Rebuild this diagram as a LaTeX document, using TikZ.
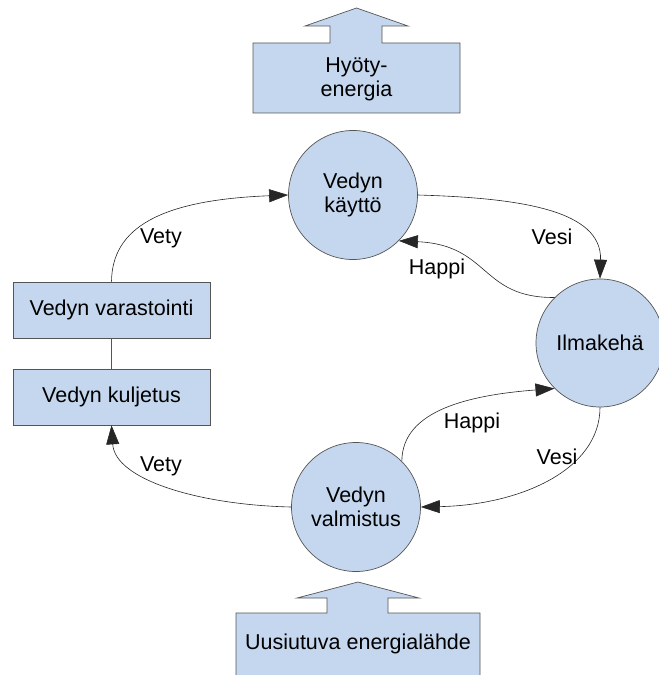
\documentclass[tikz,border=0pt]{standalone}
\usepackage{fontspec}
\setmainfont{Liberation Sans}
\usetikzlibrary{arrows.meta}
\definecolor{boxfill}{RGB}{197,215,238}
\definecolor{boxline}{RGB}{85,85,85}
\begin{document}
\begin{tikzpicture}[x=1bp,y=-1bp,
  every node/.style={font=\fontsize{21.5bp}{24bp}\selectfont, text=black},
  ball/.style={circle, draw=boxline, fill=boxfill, line width=0.7bp, minimum size=129bp, inner sep=0pt, align=center},
  stepbox/.style={rectangle, draw=boxline, fill=boxfill, line width=0.7bp, minimum width=197bp, minimum height=56bp, inner sep=0pt},
  bigarrow/.style={draw=boxline, fill=boxfill, line width=0.7bp, line join=miter},
  flow/.style={draw=black!85, line width=0.6bp, -{Triangle[length=19bp,width=13bp]}},
  lbl/.style={inner sep=0pt}]
\useasboundingbox (0,0) rectangle (659,675);

% output arrow box at the top
\path[bigarrow] (253,113) -- (253,43) -- (330,43) -- (330,26) -- (305,26) -- (356.5,8)
  -- (408,26) -- (382,26) -- (382,43) -- (460,43) -- (460,113) -- cycle;
\node[align=center, inner sep=0pt] (hyoty) at (356.5,79) {Hyöty-\\energia};

% input arrow box at the bottom
\path[bigarrow] (236,700) -- (236,613) -- (327,613) -- (327,598) -- (297,598) -- (358,582)
  -- (419,598) -- (388,598) -- (388,613) -- (480,613) -- (480,700) -- cycle;
\node[inner sep=0pt] (uusi) at (358,644) {Uusiutuva energialähde};

% process nodes
\node[ball] (kaytto) at (353,195) {Vedyn\\käyttö};
\node[ball] (valm) at (356,507) {Vedyn\\valmistus};
\node[ball, minimum size=128bp] (ilma) at (600,343) {Ilmakehä};
\node[stepbox] (varast) at (111.5,310) {Vedyn varastointi};
\node[stepbox] (kulj) at (111.5,397) {Vedyn kuljetus};

% link between storage and transport
\draw[boxline, line width=0.7bp] (varast.south) -- (kulj.north);

% flows
\draw[flow] (varast.north) .. controls (112,228) and (160,200) .. (kaytto.west);
\draw[flow] (kaytto.east) .. controls (520,198) and (602,210) .. (ilma.north);
\draw[flow] (ilma.135) .. controls (480,298) and (490,245) .. (kaytto.-45);
\draw[flow] (valm.45) .. controls (402,410) and (470,395) .. (ilma.225);
\draw[flow] (ilma.south) .. controls (600,470) and (520,505) .. (valm.east);
\draw[flow] (valm.west) .. controls (200,505) and (115,480) .. (kulj.south);

% flow labels
\node[lbl] (vety1) at (161,238) {Vety};
\node[lbl] (vesi1) at (552,237) {Vesi};
\node[lbl] (happi1) at (437,269) {Happi};
\node[lbl] (happi2) at (472,423) {Happi};
\node[lbl] (vesi2) at (557,457) {Vesi};
\node[lbl] (vety2) at (161,466) {Vety};
\end{tikzpicture}
\end{document}
